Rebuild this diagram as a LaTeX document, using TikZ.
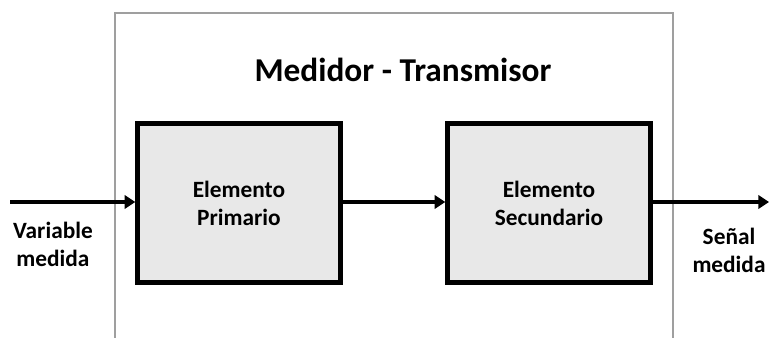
\documentclass[tikz,border=0pt]{standalone}
\usepackage{fontspec}
\setmainfont{Carlito}
\usepackage{tikz}
\usetikzlibrary{arrows.meta, positioning}

\begin{document}
\begin{tikzpicture}[x=0.75pt, y=-0.75pt,
    bloque/.style={draw, line width=3.6pt, fill=black!9, minimum width=152pt, minimum height=119pt,
        align=center, font=\fontsize{17.5}{21}\selectfont\bfseries},
    etiqueta/.style={align=center, font=\fontsize{17.5}{21}\selectfont\bfseries},
    flecha/.style={line width=2.8pt, -{Triangle[length=8pt, width=10pt]}}]
    \useasboundingbox (0,0) rectangle (770,338);
    \draw[gray!75, line width=1.1pt] (115,340) -- (115,13) -- (673,13) -- (673,340);
    \node[font=\fontsize{25}{30}\selectfont\bfseries] (titulo) at (403,70) {Medidor - Transmisor};

    \node[bloque] (prim) at (239,203) {Elemento\\Primario};
    \node[bloque] (sec) at (549,203) {Elemento\\Secundario};

    \coordinate (ent) at (10,202);
    \coordinate (sal) at (769,202);
    \draw[flecha] (ent) -- (prim.west |- ent);
    \draw[flecha] (prim.east |- ent) -- (sec.west |- ent);
    \draw[flecha] (sec.east |- sal) -- (sal);

    \node[etiqueta] (var) at (53,244) {Variable\\medida};
    \node[etiqueta] (senal) at (729,250) {Señal\\medida};
\end{tikzpicture}
\end{document}
